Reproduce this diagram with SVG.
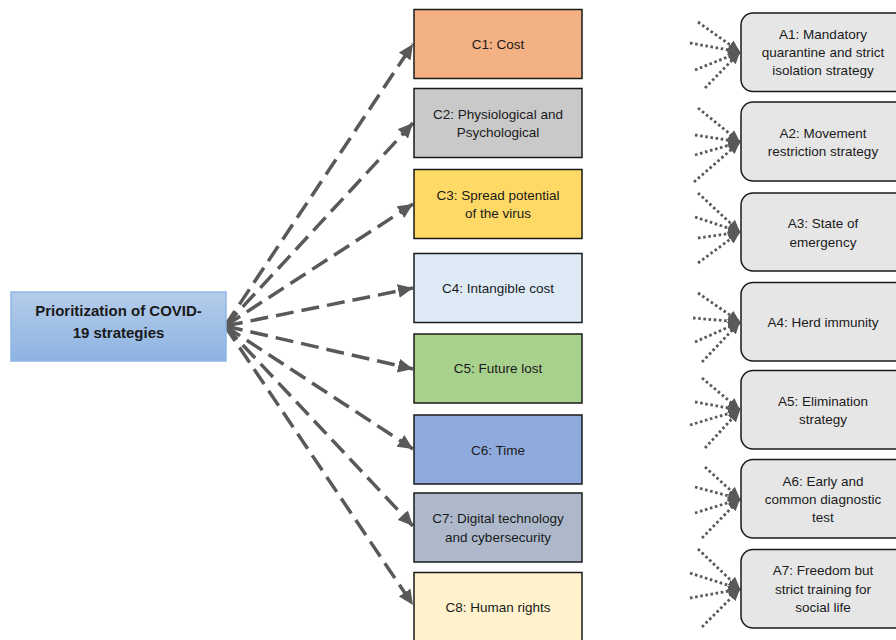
<svg xmlns="http://www.w3.org/2000/svg" width="896" height="640" viewBox="0 0 896 640">
<defs>
<linearGradient id="gBlue" x1="0" y1="0" x2="0" y2="1">
<stop offset="0" stop-color="#b5cdea"/>
<stop offset="1" stop-color="#8db3e2"/>
</linearGradient>
<marker id="arrD" markerUnits="userSpaceOnUse" markerWidth="16" markerHeight="14" refX="15" refY="7" orient="auto">
<path d="M0,0 L15,7 L0,14 Z" fill="#595959"/>
</marker>
<marker id="arrS" markerUnits="userSpaceOnUse" markerWidth="13" markerHeight="12" refX="12" refY="6" orient="auto">
<path d="M0,0.5 L12,6 L0,11.5 Z" fill="#595959"/>
</marker>
</defs>
<style>
.t{font-family:"Liberation Sans",Arial,sans-serif;font-size:13.5px;fill:#1a1a1a;text-anchor:middle}
.tb{font-family:"Liberation Sans",Arial,sans-serif;font-size:15px;font-weight:bold;fill:#1a1a1a;text-anchor:middle}
.c{stroke:#1a1a1a;stroke-width:1.5}
.a{fill:#e6e6e6;stroke:#1a1a1a;stroke-width:1.5}
.dash{fill:none;stroke:#595959;stroke-width:3.5;stroke-dasharray:18 8;marker-end:url(#arrD)}
.dot{fill:none;stroke:#595959;stroke-width:2.8;stroke-dasharray:2.6 2.6;marker-end:url(#arrS)}
</style>
<rect width="896" height="640" fill="#ffffff"/>

<g id="connectors">
<line class="dash" x1="225" y1="326" x2="413" y2="44"/>
<line class="dash" x1="225" y1="326" x2="413" y2="123"/>
<line class="dash" x1="225" y1="326" x2="413" y2="204"/>
<line class="dash" x1="225" y1="326" x2="413" y2="288"/>
<line class="dash" x1="225" y1="326" x2="413" y2="369"/>
<line class="dash" x1="225" y1="326" x2="413" y2="449"/>
<line class="dash" x1="225" y1="326" x2="413" y2="526"/>
<line class="dash" x1="225" y1="326" x2="413" y2="605"/>

<line class="dot" x1="698" y1="22" x2="740" y2="52"/>
<line class="dot" x1="690" y1="43" x2="740" y2="52"/>
<line class="dot" x1="695" y1="70" x2="740" y2="52"/>
<line class="dot" x1="705" y1="88" x2="740" y2="52"/>

<line class="dot" x1="698" y1="108" x2="740" y2="142"/>
<line class="dot" x1="695" y1="135" x2="740" y2="142"/>
<line class="dot" x1="695" y1="155" x2="740" y2="142"/>
<line class="dot" x1="694" y1="182" x2="740" y2="142"/>

<line class="dot" x1="698" y1="193" x2="740" y2="232"/>
<line class="dot" x1="695" y1="217" x2="740" y2="232"/>
<line class="dot" x1="698" y1="238" x2="740" y2="232"/>
<line class="dot" x1="698" y1="263" x2="740" y2="232"/>

<line class="dot" x1="698" y1="293" x2="740" y2="322"/>
<line class="dot" x1="693" y1="318" x2="740" y2="322"/>
<line class="dot" x1="695" y1="342" x2="740" y2="322"/>
<line class="dot" x1="702" y1="362" x2="740" y2="322"/>

<line class="dot" x1="702" y1="378" x2="740" y2="410"/>
<line class="dot" x1="695" y1="402" x2="740" y2="410"/>
<line class="dot" x1="690" y1="425" x2="740" y2="410"/>
<line class="dot" x1="705" y1="448" x2="740" y2="410"/>

<line class="dot" x1="705" y1="467" x2="740" y2="499"/>
<line class="dot" x1="695" y1="487" x2="740" y2="499"/>
<line class="dot" x1="695" y1="513" x2="740" y2="499"/>
<line class="dot" x1="702" y1="538" x2="740" y2="499"/>

<line class="dot" x1="698" y1="549" x2="740" y2="589"/>
<line class="dot" x1="690" y1="573" x2="740" y2="589"/>
<line class="dot" x1="690" y1="598" x2="740" y2="589"/>
<line class="dot" x1="702" y1="627" x2="740" y2="589"/>
</g>

<g id="root">
<rect x="11" y="292" width="215" height="69" fill="url(#gBlue)" stroke="#8eb6e6" stroke-width="1.5"/>
<text class="tb" x="118.5" y="316">Prioritization of COVID-</text>
<text class="tb" x="118.5" y="338">19 strategies</text>
</g>

<g id="C1"><rect class="c" x="414" y="9.5" width="168" height="69" fill="#f4b183"/>
<text class="t" x="498" y="48.5">C1: Cost</text></g>
<g id="C2"><rect class="c" x="414" y="88.5" width="168" height="69" fill="#c9c9c9"/>
<text class="t" x="498" y="118.5">C2: Physiological and</text>
<text class="t" x="498" y="137">Psychological</text></g>
<g id="C3"><rect class="c" x="414" y="169.5" width="168" height="69" fill="#ffd966"/>
<text class="t" x="498" y="199.5">C3: Spread potential</text>
<text class="t" x="498" y="218">of the virus</text></g>
<g id="C4"><rect class="c" x="414" y="253.5" width="168" height="69" fill="#deebf7"/>
<text class="t" x="498" y="292.5">C4: Intangible cost</text></g>
<g id="C5"><rect class="c" x="414" y="334" width="168" height="69" fill="#a9d18e"/>
<text class="t" x="498" y="373">C5: Future lost</text></g>
<g id="C6"><rect class="c" x="414" y="415" width="168" height="69" fill="#8faadc"/>
<text class="t" x="498" y="454.5">C6: Time</text></g>
<g id="C7"><rect class="c" x="414" y="493" width="168" height="69" fill="#adb9ca"/>
<text class="t" x="498" y="523">C7: Digital technology</text>
<text class="t" x="498" y="541.5">and cybersecurity</text></g>
<g id="C8"><rect class="c" x="414" y="572.5" width="168" height="75" fill="#fff2cc"/>
<text class="t" x="498" y="612">C8: Human rights</text></g>

<g id="A1"><rect class="a" x="741" y="13" width="166" height="78.5" rx="12"/>
<text class="t" x="823" y="39">A1: Mandatory</text>
<text class="t" x="823" y="57">quarantine and strict</text>
<text class="t" x="823" y="75">isolation strategy</text></g>
<g id="A2"><rect class="a" x="741" y="102" width="166" height="79" rx="12"/>
<text class="t" x="823" y="137.5">A2: Movement</text>
<text class="t" x="823" y="156">restriction strategy</text></g>
<g id="A3"><rect class="a" x="741" y="193" width="166" height="78" rx="12"/>
<text class="t" x="823" y="228">A3: State of</text>
<text class="t" x="823" y="246.5">emergency</text></g>
<g id="A4"><rect class="a" x="741" y="282.5" width="166" height="78.5" rx="12"/>
<text class="t" x="823" y="326.5">A4: Herd immunity</text></g>
<g id="A5"><rect class="a" x="741" y="370.5" width="166" height="78.5" rx="12"/>
<text class="t" x="823" y="405.5">A5: Elimination</text>
<text class="t" x="823" y="424">strategy</text></g>
<g id="A6"><rect class="a" x="741" y="459.5" width="166" height="78.5" rx="12"/>
<text class="t" x="823" y="485.5">A6: Early and</text>
<text class="t" x="823" y="504">common diagnostic</text>
<text class="t" x="823" y="522">test</text></g>
<g id="A7"><rect class="a" x="741" y="549.5" width="166" height="78.5" rx="12"/>
<text class="t" x="823" y="575">A7: Freedom but</text>
<text class="t" x="823" y="593.5">strict training for</text>
<text class="t" x="823" y="612">social life</text></g>
</svg>
